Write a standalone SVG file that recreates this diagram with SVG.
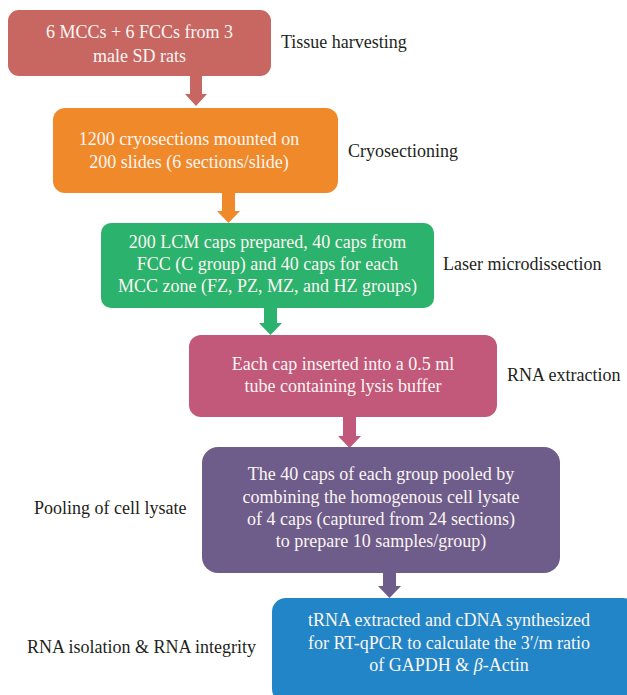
<svg xmlns="http://www.w3.org/2000/svg" width="627" height="695" viewBox="0 0 627 695">
<style>
.bt{font-family:"Liberation Serif","Times New Roman",serif;font-size:18px;fill:#fbf6f3;text-anchor:middle}
.lb{font-family:"Liberation Serif","Times New Roman",serif;font-size:18px;fill:#231f20}
</style>
<rect width="627" height="695" fill="#fff"/>
<g id="connectors">
<polygon points="190,76 202,76 202,94 207,94 196,106 185,94 190,94" fill="#c86662"/>
<polygon points="222,193 235,193 235,211 240,211 228.5,223 217,211 222,211" fill="#f0892a"/>
<polygon points="264,308 277,308 277,323 282,323 270.5,335 259,323 264,323" fill="#2bb26c"/>
<polygon points="343,417 356,417 356,436 361,436 349.5,448 338,436 343,436" fill="#c2587a"/>
<polygon points="383,573 396,573 396,586 401,586 389.5,598 378,586 383,586" fill="#6e5c8a"/>
</g>
<g id="n1">
<rect x="8" y="10" width="263" height="66" rx="11" fill="#c86662"/>
<text class="bt" x="139.5" y="38">6 MCCs + 6 FCCs from 3</text>
<text class="bt" x="139.5" y="62">male SD rats</text>
</g>
<text class="lb" x="281" y="48">Tissue harvesting</text>
<g id="n2">
<rect x="53" y="108" width="285" height="85" rx="12" fill="#f0892a"/>
<text class="bt" x="189" y="145">1200 cryosections mounted on</text>
<text class="bt" x="189" y="168">200 slides (6 sections/slide)</text>
</g>
<text class="lb" x="348" y="157">Cryosectioning</text>
<g id="n3">
<rect x="101" y="223" width="333" height="85" rx="10" fill="#2bb26c"/>
<text class="bt" x="267.5" y="248">200 LCM caps prepared, 40 caps from</text>
<text class="bt" x="267.5" y="270">FCC (C group) and 40 caps for each</text>
<text class="bt" x="267.5" y="292">MCC zone (FZ, PZ, MZ, and HZ groups)</text>
</g>
<text class="lb" x="443" y="270">Laser microdissection</text>
<g id="n4">
<rect x="189" y="335" width="308" height="82" rx="12" fill="#c2587a"/>
<text class="bt" x="343" y="370">Each cap inserted into a 0.5 ml</text>
<text class="bt" x="343" y="392">tube containing lysis buffer</text>
</g>
<text class="lb" x="507" y="381">RNA extraction</text>
<g id="n5">
<rect x="202" y="447" width="358" height="126" rx="16" fill="#6e5c8a"/>
<text class="bt" x="381" y="480">The 40 caps of each group pooled by</text>
<text class="bt" x="381" y="503">combining the homogenous cell lysate</text>
<text class="bt" x="381" y="525">of 4 caps (captured from 24 sections)</text>
<text class="bt" x="381" y="547">to prepare 10 samples/group)</text>
</g>
<text class="lb" x="34" y="514">Pooling of cell lysate</text>
<g id="n6">
<rect x="272" y="598" width="365" height="105" rx="14" fill="#2285c8"/>
<text class="bt" x="449" y="626">tRNA extracted and cDNA synthesized</text>
<text class="bt" x="449" y="649">for RT-qPCR to calculate the 3′/m ratio</text>
<text class="bt" x="449" y="671">of GAPDH &amp; <tspan font-style="italic">β</tspan>-Actin</text>
</g>
<text class="lb" x="27" y="653">RNA isolation &amp; RNA integrity</text>
</svg>
